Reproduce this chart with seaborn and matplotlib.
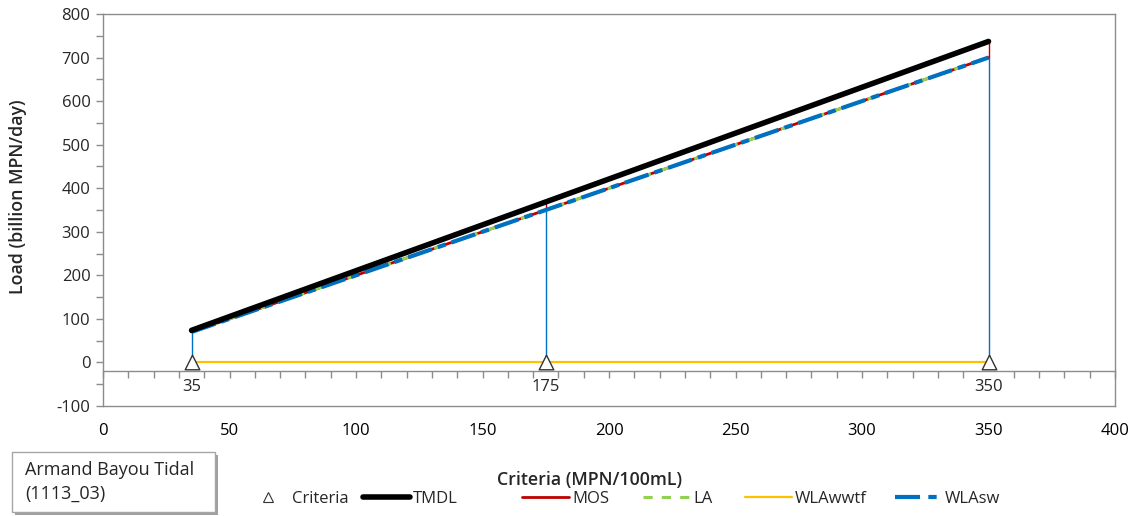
import numpy as np
import pandas as pd
import matplotlib
matplotlib.use("Agg")
import matplotlib.pyplot as plt
import seaborn as sns
from matplotlib.lines import Line2D
from matplotlib.patches import Rectangle
from matplotlib.ticker import MultipleLocator, FixedLocator

# ---- data ----
criteria = [35, 175, 350]
criteria_y = [0, 0, 0]
tmdl = [73.7, 368.5, 737.0]
mos = [70.0, 350.0, 700.0]
la = [70.0, 350.0, 700.0]
wlawwtf = [0.3, 0.3, 0.3]
wlasw = [70.0, 350.0, 700.0]
x_ticks = [0, 50, 100, 150, 200, 250, 300, 350, 400]
y_ticks = [-100, 0, 100, 200, 300, 400, 500, 600, 700, 800]
crit_labels = ["35", "175", "350"]

sns.set_theme(style="white")
plt.rcParams['font.family'] = ['Open Sans', 'DejaVu Sans']
plt.rcParams['axes.unicode_minus'] = False

df = pd.DataFrame({"criteria": criteria, "zero": criteria_y, "TMDL": tmdl, "MOS": mos,
                   "LA": la, "WLAwwtf": wlawwtf, "WLAsw": wlasw})

fig = plt.figure(figsize=(11.3, 5.16), dpi=100)
ax = fig.add_axes([103/1130, 1 - 406/516, (1115-103)/1130, (406-14)/516])

gray = "#8c8c8c"
c_black = "#000000"
c_red = "#C00000"
c_green = "#92D050"
c_yellow = "#FFC000"
c_blue = "#0070C0"

# drop lines
ax.vlines(df["criteria"], df["zero"], df["WLAsw"], color=c_blue, lw=1, zorder=2)
ax.vlines(df["criteria"], df["WLAsw"], df["TMDL"], color=c_red, lw=1, zorder=2)

sns.lineplot(data=df, x="criteria", y="WLAwwtf", color=c_yellow, lw=1.6, ax=ax, zorder=3)
sns.lineplot(data=df, x="criteria", y="MOS", color=c_red, lw=2, ax=ax, zorder=3)
sns.lineplot(data=df, x="criteria", y="LA", color=c_green, lw=2.2, ax=ax, zorder=4,
             linestyle=(0, (3, 3)))
sns.lineplot(data=df, x="criteria", y="WLAsw", color=c_blue, lw=3, ax=ax, zorder=5,
             linestyle=(0, (6, 1.5, 2, 1.5)))
sns.lineplot(data=df, x="criteria", y="TMDL", color=c_black, lw=4, ax=ax, zorder=6,
             solid_capstyle="round")
sns.scatterplot(data=df, x="criteria", y="zero", marker="^", s=110, facecolor="white",
                edgecolor="#333333", linewidth=1, ax=ax, zorder=7)

ax.set_xlim(0, 400)
ax.set_ylim(-100, 800)
ax.xaxis.set_major_locator(FixedLocator(x_ticks))
ax.yaxis.set_major_locator(FixedLocator(y_ticks))
ax.yaxis.set_minor_locator(MultipleLocator(50))
ax.tick_params(axis="x", which="both", length=0, pad=12, labelsize=12, colors="#000000")
ax.tick_params(axis="y", which="major", direction="out", length=5, width=1, color=gray,
               left=True, pad=4, labelsize=12)
ax.tick_params(axis="y", which="minor", direction="out", length=5, width=1, color=gray, left=True)
for s in ax.spines.values():
    s.set_color(gray)
    s.set_linewidth(1)
ax.set_xlabel("")
ax.set_ylabel("Load (billion MPN/day)", fontsize=12.8, fontweight="semibold")
ax.yaxis.set_label_coords((27 - 103) / 1012, (406 - 197) / 392)

# secondary criteria axis at y = -20
sec = ax.secondary_xaxis((-20 + 100) / 900)
sec.spines["bottom"].set_color(gray)
sec.spines["bottom"].set_linewidth(1)
sec.xaxis.set_major_locator(FixedLocator(criteria))
sec.set_xticklabels(crit_labels)
sec.xaxis.set_minor_locator(MultipleLocator(10))
sec.tick_params(axis="x", which="major", length=0, pad=6, labelsize=12)
sec.tick_params(axis="x", which="minor", length=5, width=1, color=gray, direction="out")

fig.text(590/1130, 1 - 480/516, "Criteria (MPN/100mL)", ha="center", va="center",
         fontsize=12.8, fontweight="semibold")

# legend
leg_y = 1 - 499/516
h_crit = [Line2D([], [], marker="^", ls="none", markerfacecolor="white",
                 markeredgecolor="#333333", markersize=7.5, markeredgewidth=0.8)]
leg1 = fig.legend(h_crit, ["Criteria"], loc="center left", bbox_to_anchor=(260/1130, leg_y),
                  frameon=False, fontsize=12, handlelength=1.0, handletextpad=0.9,
                  borderpad=0, borderaxespad=0)
handles = [
    Line2D([], [], color=c_black, lw=4),
    Line2D([], [], color=c_red, lw=2),
    Line2D([], [], color=c_green, lw=2.2, ls=(0, (3, 3))),
    Line2D([], [], color=c_yellow, lw=1.6),
    Line2D([], [], color=c_blue, lw=3, ls=(0, (6, 2, 2, 2))),
]
labels = ["TMDL", "MOS", "LA", "WLAwwtf", "WLAsw"]
text_starts = [413, 572, 693, 795, 945]
for h, lab, tx in zip(handles, labels, text_starts):
    fig.legend([h], [lab], loc="center left", bbox_to_anchor=((tx - 50) / 1130, leg_y),
               frameon=False, fontsize=12, handlelength=47 / 16.67, handletextpad=3 / 16.67,
               borderpad=0, borderaxespad=0)

# label box
fig.patches.append(Rectangle((15/1130, 1 - 515/516), 203/1130, 60/516, transform=fig.transFigure,
                             facecolor="#a0a0a0", edgecolor="none", zorder=1))
fig.patches.append(Rectangle((12/1130, 1 - 512/516), 203/1130, 60/516, transform=fig.transFigure,
                             facecolor="white", edgecolor="#a6a6a6", lw=1, zorder=2))
fig.text(25/1130, 1 - 470/516, "Armand Bayou Tidal", ha="left", va="center", fontsize=13, zorder=3)
fig.text(25/1130, 1 - 494/516, "(1113_03)", ha="left", va="center", fontsize=13, zorder=3)

fig.savefig("out.png", dpi=100)
